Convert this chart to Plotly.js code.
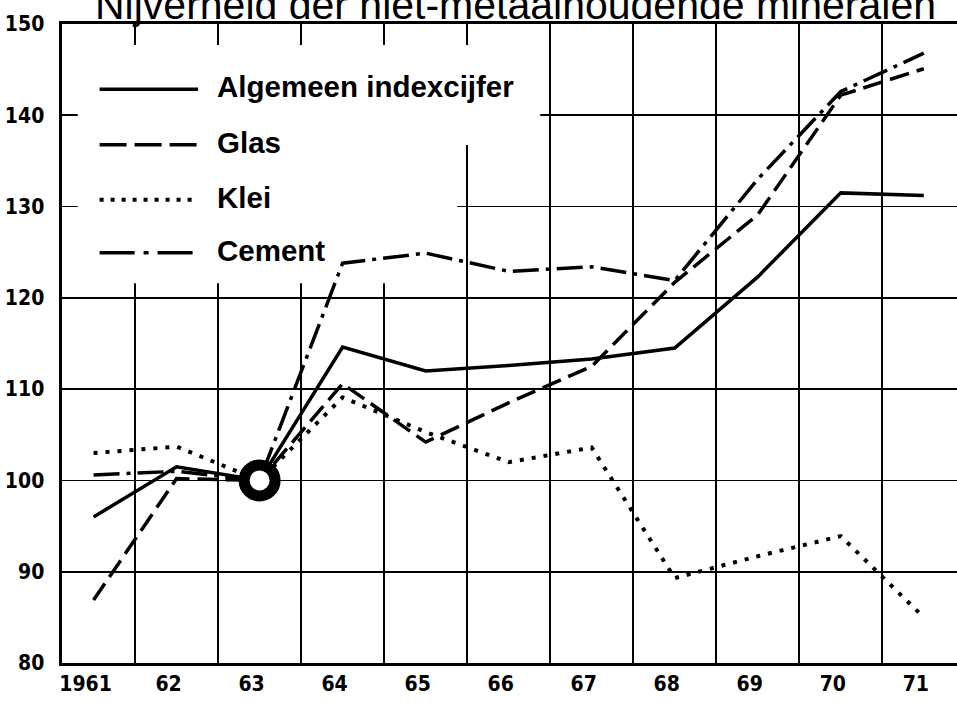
<!DOCTYPE html>
<html>
<head>
<meta charset="utf-8">
<script src="https://cdn.plot.ly/plotly-3.0.1.min.js"></script>
<style>html,body{margin:0;padding:0;background:#fff;}#chart{width:957px;height:703px;}</style>
</head>
<body>
<div id="chart"></div>
<script>
const years = [1961, 1962, 1963, 1964, 1965, 1966, 1967, 1968, 1969, 1970, 1971];
const yearLabels = ['1961', '62', '63', '64', '65', '66', '67', '68', '69', '70', '71'];
const algemeen = [96.0, 101.5, 100, 114.6, 112.0, 112.6, 113.3, 114.5, 122.3, 131.5, 131.2];
const glas = [86.9, 100.2, 100, 110.6, 104.2, 108.5, 112.5, 121.7, 129.1, 142.2, 145.1];
const klei = [103.0, 103.7, 100, 109.1, 105.3, 102.0, 103.6, 89.3, 91.7, 93.9, 85.0];
const cement = [100.6, 101.0, 100, 123.8, 124.9, 122.9, 123.4, 121.9, 133.0, 142.6, 146.8];
const seriesNames = ['Algemeen indexcijfer', 'Glas', 'Klei', 'Cement'];
const yTicks = [80, 90, 100, 110, 120, 130, 140, 150];
const baseIndex = 2; // 1963 = 100

const styles = [
  {dash: 'solid', width: 3.5},
  {dash: '20px,8px', width: 3.5},
  {dash: '4px,8px', width: 4},
  {dash: '26px,7px,4px,7px', width: 3.5}
];
const legendDash = ['solid', '27px,8px', '4px,7px', '35px,9px,5px,9px'];
const seriesData = [algemeen, glas, klei, cement];

const traces = seriesData.map((vals, i) => ({
  x: years, y: vals, name: seriesNames[i], type: 'scatter', mode: 'lines',
  line: {color: '#000', width: styles[i].width, dash: styles[i].dash},
  hoverinfo: 'skip', showlegend: false
}));
traces.push({
  x: [years[baseIndex]], y: [algemeen[baseIndex]], type: 'scatter', mode: 'markers',
  marker: {size: 31, color: '#fff', line: {color: '#000', width: 11}},
  showlegend: false, hoverinfo: 'skip'
});

// white area behind the legend (hides grid, lies under the data lines)
const shapes = [
  {type: 'rect', xref: 'x', yref: 'y', x0: 1960.81, x1: 1966.38, y0: 136.75, y1: 147.7,
   fillcolor: '#fff', line: {width: 0}, layer: 'between'},
  {type: 'rect', xref: 'x', yref: 'y', x0: 1960.81, x1: 1965.38, y0: 121.6, y1: 136.8,
   fillcolor: '#fff', line: {width: 0}, layer: 'between'}
];
// legend drawn manually so the long line samples match
const legY = [0.898, 0.811, 0.725, 0.642];
const annotations = [];
seriesNames.forEach((n, i) => {
  shapes.push({type: 'line', xref: 'paper', yref: 'paper', x0: 0.042, x1: 0.152, y0: legY[i], y1: legY[i],
    line: {color: '#000', width: i === 2 ? 4 : 3.5, dash: legendDash[i]}, layer: 'above'});
  annotations.push({xref: 'paper', yref: 'paper', x: 0.171, y: legY[i] + 0.004, xanchor: 'left', yanchor: 'middle',
    text: n, showarrow: false,
    font: {family: 'Liberation Sans, Arial, sans-serif', size: 29.5, color: '#000', weight: 700}});
});

const tickFont = {family: 'DejaVu Sans Condensed, DejaVu Sans, sans-serif', size: 21, color: '#000', weight: 700, stretch: 'condensed'};

const layout = {
  width: 957, height: 703,
  margin: {l: 62, r: 0, t: 24, b: 40},
  paper_bgcolor: '#fff', plot_bgcolor: '#fff',
  showlegend: false,
  title: {
    text: 'Nijverheid der niet-metaalhoudende mineralen',
    xref: 'container', yref: 'container', x: 95 / 957, xanchor: 'left', y: 0.994, yanchor: 'middle',
    font: {family: 'Liberation Sans, Arial, sans-serif', size: 41, color: '#000'}
  },
  xaxis: {
    range: [1960.62, 1971.4],
    tickmode: 'array', tickvals: years, ticktext: yearLabels,
    tickfont: tickFont, ticks: '', ticklabelshift: -8,
    showgrid: false, zeroline: false,
    showline: true, linecolor: '#000', linewidth: 3, mirror: true,
    minor: {tick0: 1960.5, dtick: 1, showgrid: true, gridcolor: '#000', gridwidth: 1.8, ticks: ''}
  },
  yaxis: {
    range: [80, 150],
    tickmode: 'array', tickvals: yTicks, ticktext: yTicks.map(String),
    tickfont: tickFont, ticks: '', ticklabelstandoff: 10,
    showgrid: true, gridcolor: '#000', gridwidth: 1.8, zeroline: false,
    showline: true, linecolor: '#000', linewidth: 3.5, mirror: false
  },
  shapes: shapes,
  annotations: annotations
};

Plotly.newPlot('chart', traces, layout, {displayModeBar: false, staticPlot: true});
</script>
</body>
</html>
